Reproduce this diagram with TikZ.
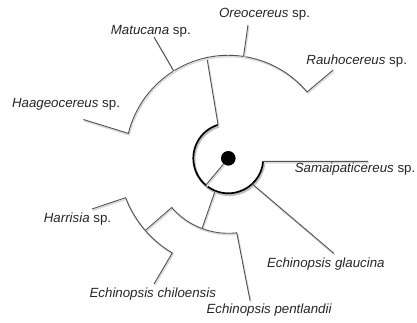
\documentclass[tikz,border=0pt]{standalone}
\usepackage{fontspec}
\setmainfont{Liberation Sans}

\begin{document}
\begin{tikzpicture}[
        x=1pt, y=1pt,
        font=\fontsize{13.3}{16}\selectfont,
        branch/.style={draw=black!68, line width=0.9pt, line join=miter,
            preaction={draw=black!14, line width=1.6pt, transform canvas={shift={(0.8pt,-1.4pt)}}}},
        core/.style={draw=black, line width=1.7pt,
            preaction={draw=black!25, line width=2.4pt, transform canvas={shift={(1pt,-1.6pt)}}}},
        dot/.style={circle, fill=black, minimum size=14.6pt, inner sep=0pt},
        taxon/.style={text=black!85, inner sep=1pt}
    ]
        \useasboundingbox (-228.3,-163.7) rectangle (188.7,158.3);

        \coordinate (upfoot) at (107:35);
        \coordinate (rootfoot) at (230:35);
        \coordinate (downfoot) at (248:35);
        \coordinate (glafoot) at (-47:35);
        \coordinate (samfoot) at (-5:35);
        \coordinate (upknot) at (102:103);
        \coordinate (downknot) at (249.5:75);
        \coordinate (leftfoot) at (221:75);
        \coordinate (leftknot) at (221:110);
        \coordinate (haagbase) at (166:103);
        \coordinate (matubase) at (122:103);
        \coordinate (oreobase) at (81.5:103);
        \coordinate (harrbase) at (201:110);

        \coordinate (haag) at (165:150);
        \coordinate (matu) at (121.5:142);
        \coordinate (oreo) at (81.6:134.7);
        \coordinate (rauh) at (40.1:137);
        \coordinate (samai) at (139.7,-3.05);
        \coordinate (glau) at (-42:142);
        \coordinate (harr) at (200.4:145.4);
        \coordinate (chil) at (239.4:146);
        \coordinate (pent) at (278.7:144);

        \draw[core] (upfoot) arc[start angle=107, end angle=355, radius=35];
        \draw[branch] (upfoot) -- (upknot);
        \draw[branch] (samfoot) -- (samai);
        \draw[branch] (glafoot) -- (glau);
        \draw[branch] (downfoot) -- (downknot);

        \draw[branch] (haag) -- (haagbase) arc[start angle=166, end angle=40.1, radius=103] -- (rauh);
        \draw[branch] (matubase) -- (matu);
        \draw[branch] (oreobase) -- (oreo);

        \draw[branch] (leftknot) -- (leftfoot) arc[start angle=221, end angle=276.5, radius=75] -- (pent);
        \draw[branch] (harr) -- (harrbase) arc[start angle=201, end angle=239.4, radius=110] -- (chil);

        \node[dot] (hub) at (0,0) {};
        \draw[branch] (hub) -- (rootfoot);

        \node[taxon] (haaglab) at (-162.3,54.3) {\textit{Haageocereus} sp.};
        \node[taxon] (matulab) at (-77.5,127.3) {\textit{Matucana} sp.};
        \node[taxon] (oreolab) at (36.2,144.3) {\textit{Oreocereus} sp.};
        \node[taxon] (rauhlab) at (128.4,97.3) {\textit{Rauhocereus} sp.};
        \node[taxon] (samailab) at (126.7,-10.7) {\textit{Samaipaticereus} sp.};
        \node[taxon] (glaulab) at (97.5,-106.2) {\textit{Echinopsis glaucina}};
        \node[taxon] (harrlab) at (-150.8,-60.9) {\textit{Harrisia} sp.};
        \node[taxon] (chillab) at (-75.5,-136.2) {\textit{Echinopsis chiloensis}};
        \node[taxon] (pentlab) at (40.9,-152.2) {\textit{Echinopsis pentlandii}};
    \end{tikzpicture}
\end{document}
